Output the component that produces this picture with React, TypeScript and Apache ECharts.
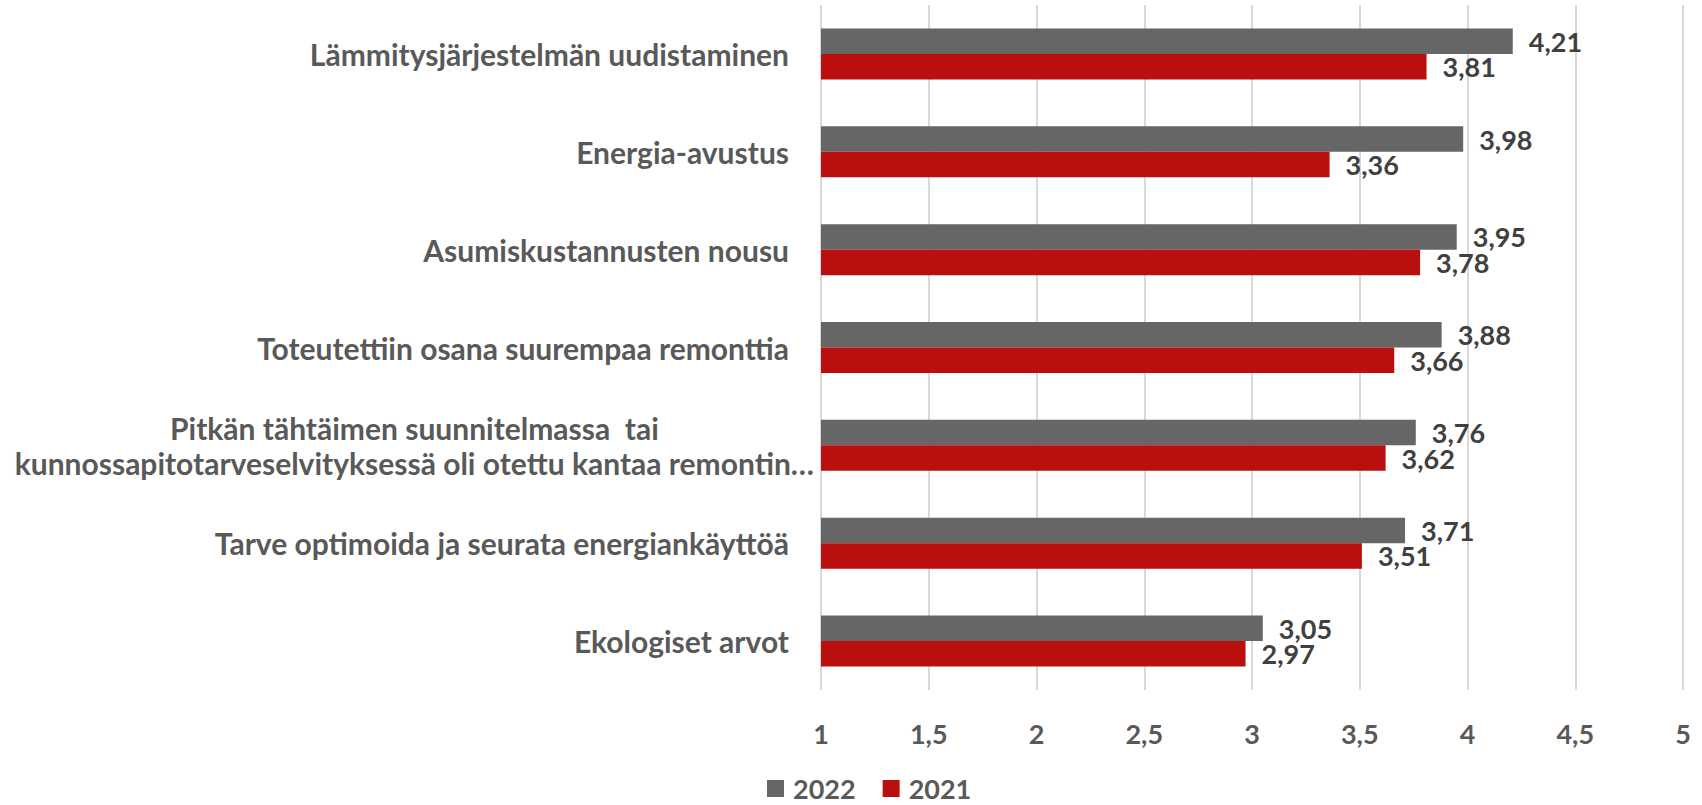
import React, { useEffect, useRef } from "react";
import * as echarts from "echarts";

const categories = [
  "Lämmitysjärjestelmän uudistaminen",
  "Energia-avustus",
  "Asumiskustannusten nousu",
  "Toteutettiin osana suurempaa remonttia",
  "Pitkän tähtäimen suunnitelmassa  tai\nkunnossapitotarveselvityksessä oli otettu kantaa remontin…",
  "Tarve optimoida ja seurata energiankäyttöä",
  "Ekologiset arvot",
];
const values2022 = [4.21, 3.98, 3.95, 3.88, 3.76, 3.71, 3.05];
const values2021 = [3.81, 3.36, 3.78, 3.66, 3.62, 3.51, 2.97];
const seriesNames = ["2022", "2021"];
const axisMin = 1;
const axisMax = 5;
const axisStep = 0.5;

const FONT = "Lato, 'Open Sans', sans-serif";
const fmt = (v: number) => String(v).replace(".", ",");

export default function App() {
  const ref = useRef<HTMLDivElement>(null);
  useEffect(() => {
    document.body.style.margin = "0";
    const chart = echarts.init(ref.current!, undefined, { renderer: "svg" });
    const labelStyle = {
      fontFamily: FONT,
      fontWeight: "bold" as const,
      fontSize: 30,
      color: "#595959",
    };
    const valueLabel = {
      show: true,
      position: "right",
      distance: 16,
      fontFamily: FONT,
      fontWeight: "bold",
      fontSize: 27,
      color: "#404040",
      formatter: (p: any) => fmt(p.value),
    };
    chart.setOption({
      animation: false,
      textStyle: { fontFamily: FONT },
      grid: {
        left: 821,
        right: 19,
        top: 5,
        bottom: 115,
        containLabel: false,
        outerBoundsMode: "none",
      },
      legend: {
        data: seriesNames,
        left: 762,
        top: 770,
        itemWidth: 17,
        itemHeight: 17,
        itemGap: 27,
        icon: "rect",
        textStyle: {
          fontFamily: FONT,
          fontWeight: "bold",
          fontSize: 27,
          color: "#595959",
          padding: [0, 0, 0, 4],
        },
      },
      xAxis: {
        type: "value",
        min: axisMin,
        max: axisMax,
        interval: axisStep,
        axisLine: { show: false },
        axisTick: { show: false },
        splitLine: { lineStyle: { color: "#d9d9d9", width: 2 } },
        axisLabel: {
          margin: 30,
          fontFamily: FONT,
          fontWeight: "bold",
          fontSize: 27,
          color: "#595959",
          formatter: (v: number) => fmt(v),
        },
      },
      yAxis: {
        type: "category",
        data: categories,
        inverse: true,
        axisLine: { show: false },
        axisTick: { show: false },
        axisLabel: {
          margin: 7,
          align: "right",
          ...labelStyle,
          lineHeight: 35,
          formatter: (v: string) => {
            if (v.indexOf("\n") >= 0) {
              return v
                .split("\n")
                .map((s) => `{c|${s}}`)
                .join("\n");
            }
            return `{n|${v}}`;
          },
          rich: {
            c: { ...labelStyle, align: "center", lineHeight: 35 },
            n: { ...labelStyle, padding: [0, 25, 0, 0] },
          },
        },
      },
      series: [
        {
          name: seriesNames[0],
          type: "bar",
          data: values2022,
          barWidth: 25.5,
          barGap: "0%",
          itemStyle: { color: "#666666" },
          label: valueLabel,
        },
        {
          name: seriesNames[1],
          type: "bar",
          data: values2021,
          barWidth: 25.5,
          barGap: "0%",
          itemStyle: { color: "#BA0F0F" },
          label: valueLabel,
        },
      ],
    });
    return () => chart.dispose();
  }, []);
  return <div ref={ref} style={{ width: 1702, height: 805 }} />;
}
